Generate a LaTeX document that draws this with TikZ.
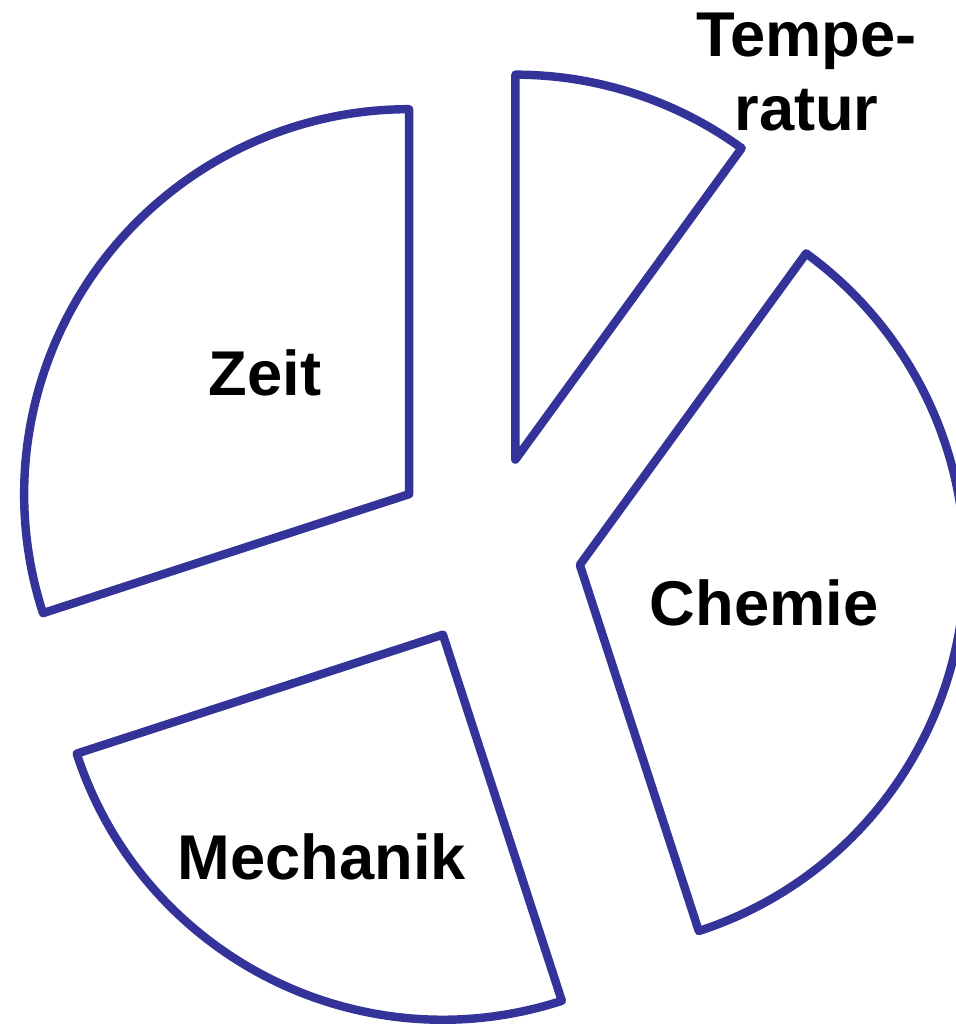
\documentclass[tikz,border=0pt]{standalone}
\usepackage{fontspec}
\setmainfont{Liberation Sans}
\usepackage{xcolor}
\definecolor{pieblue}{HTML}{333399}

\begin{document}
\begin{tikzpicture}[
    wedge/.style={draw=pieblue,line width=4.8pt,line join=round},
    label/.style={text=black,font=\fontsize{36}{42}\selectfont\bfseries,align=center}]
        \useasboundingbox (0,0) rectangle (19.12,-20.48);
        \coordinate (c) at (9.72,-11.0);
        % slices: start/end angle
        \foreach \a/\b in {54/90,-72/54,198/288,90/198}
          \draw[wedge] (c) ++({(\a+\b)/2}:1.9) -- ++(\a:7.7)
            arc[start angle=\a,end angle=\b,radius=7.7] -- cycle;
        \node[label] (zeit) at (5.30,-7.46) {Zeit};
        \node[label] (chemie) at (15.28,-12.06) {Chemie};
        \node[label] (mechanik) at (6.44,-17.14) {Mechanik};
        \node[label] (temperatur) at (16.13,-1.44) {Tempe-\\ratur};
      \end{tikzpicture}
\end{document}
